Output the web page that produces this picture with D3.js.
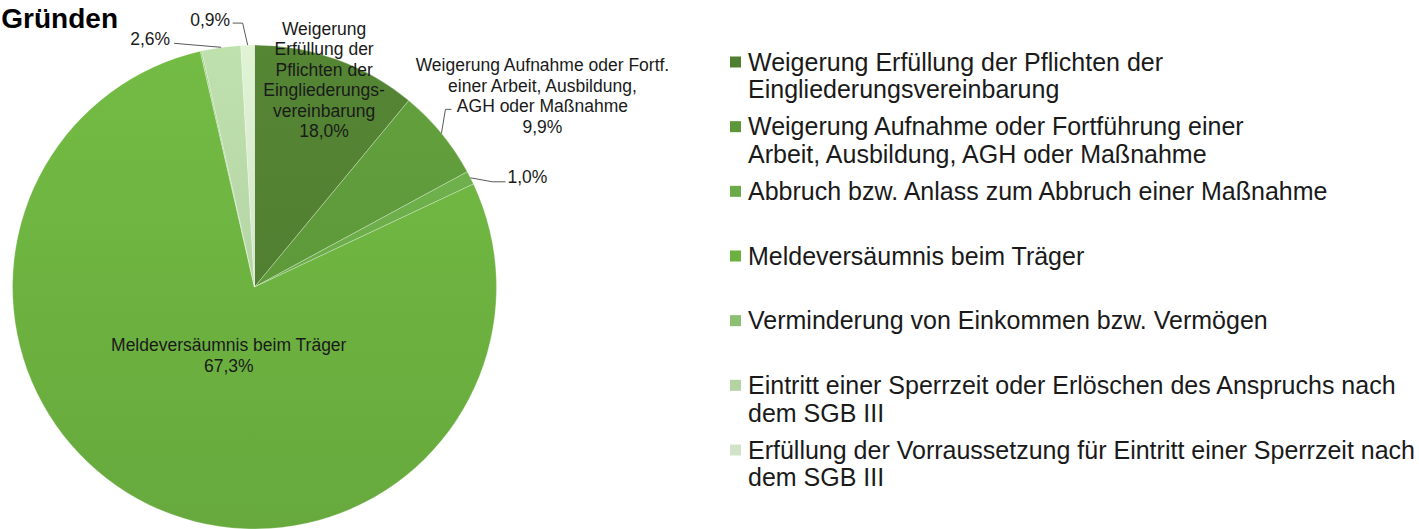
<!DOCTYPE html>
<html>
<head>
<meta charset="utf-8">
<script src="https://cdn.jsdelivr.net/npm/d3@7"></script>
<style>
  html, body { margin: 0; padding: 0; background: #fff; overflow: hidden; }
  #chart { width: 1419px; height: 529px; }
  text { font-family: 'Liberation Sans', Arial, sans-serif; fill: #1a1a1a; }
</style>
</head>
<body>
<div id="chart"></div>
<script>
// data ....
const titleText = 'Gründen';

const categories = [
  'Weigerung Erfüllung der Pflichten der\nEingliederungsvereinbarung',
  'Weigerung Aufnahme oder Fortführung einer\nArbeit, Ausbildung, AGH oder Maßnahme',
  'Abbruch bzw. Anlass zum Abbruch einer Maßnahme',
  'Meldeversäumnis beim Träger',
  'Verminderung von Einkommen bzw. Vermögen',
  'Eintritt einer Sperrzeit oder Erlöschen des Anspruchs nach\ndem SGB III',
  'Erfüllung der Vorraussetzung für Eintritt einer Sperrzeit nach\ndem SGB III',
];

// share of the circle each slice takes in the picture
const sliceValues = [11.0, 6.1, 0.9, 78.4, 0.1, 2.6, 0.9];

// percentages printed in the data labels (null = no label)
const printedPercent = [18.0, 9.9, 1.0, 67.3, null, 2.6, 0.9];

// category part of the data labels
const labelNames = [
  'Weigerung\nErfüllung der\nPflichten der\nEingliederungs-\nvereinbarung',
  'Weigerung Aufnahme oder Fortf.\neiner Arbeit, Ausbildung,\nAGH oder Maßnahme',
  '',
  'Meldeversäumnis beim Träger',
  '',
  '',
  '',
];

const colors = ['#507e31', '#5d9739', '#6aaa49', '#6cb040', '#8dbf73', '#b3d3a3', '#d2e4c8'];

const de = d3.formatLocale({ decimal: ',', thousands: '.', grouping: [3], currency: ['', ' €'] });
const fmtPct = (v) => `${de.format('.1f')(v)}%`;

class PieChart {
  constructor(node) {
    this.container = d3.select(node);
    this.setupVar();
    this.setupUtils();
    this.setupDOM();
  }

  setupVar() {
    this.width = 1419;
    this.height = 529;
    this.cx = 254.5;
    this.cy = 287;
    this.radius = 242;
    this.labelFont = 17.5;
    this.labelLine = 20.4;
    // where each data label sits, relative to the slice
    // inside: fraction of radius along mid angle; outside: offset from outer edge point
    this.labelLayout = [
      { kind: 'inside', rf: 0.91, dx: -5, dy: 0 },
      { kind: 'outside', dx: 101, dy: -68, anchor: 'middle', leader: [[4, -24], [10, -24]] },
      { kind: 'outside', dx: 37, dy: -1, anchor: 'start', leader: [[22, 4], [35, 4]] },
      { kind: 'inside', rf: 0.3, dx: 6, dy: 3 },
      null,
      { kind: 'outside', dx: -51, dy: -8, anchor: 'end', leader: [[-47, -4]] },
      { kind: 'outside', dx: -17.5, dy: -25, anchor: 'end', leader: [[-5, -22], [-15, -22]] },
    ];
  }

  setupUtils() {
    this.pie = d3.pie().sort(null).value((d) => d.value);
    this.arc = d3.arc().innerRadius(0).outerRadius(this.radius);
    this.legendY = d3.scalePoint()
      .domain(d3.range(categories.length))
      .range([62, 450]);
  }

  setupDOM() {
    this.svg = this.container.append('svg')
      .attr('width', this.width)
      .attr('height', this.height);
    this.defs = this.svg.append('defs');
    this.plots = this.svg.append('g')
      .attr('class', 'plots')
      .attr('transform', `translate(${this.cx},${this.cy})`);
    this.labels = this.svg.append('g').attr('class', 'labels');
    this.legend = this.svg.append('g').attr('class', 'legend');
  }

  point(angle, r) {
    return [this.cx + r * Math.sin(angle), this.cy - r * Math.cos(angle)];
  }

  drawGraph(data) {
    const r = this.radius;

    // soft vertical shading like the office chart
    data.forEach((d, i) => {
      const base = d3.color(d.color);
      const g = this.defs.append('linearGradient')
        .attr('id', `grad-${i}`)
        .attr('gradientUnits', 'userSpaceOnUse')
        .attr('x1', 0).attr('y1', -r)
        .attr('x2', 0).attr('y2', r);
      g.append('stop').attr('offset', '0%').attr('stop-color', base.brighter(0.18).formatHex());
      g.append('stop').attr('offset', '100%').attr('stop-color', base.darker(0.12).formatHex());
    });

    const arcs = this.pie(data);

    this.plots.selectAll('path.slice')
      .data(arcs)
      .enter()
      .append('path')
      .attr('class', 'slice')
      .attr('d', this.arc)
      .attr('fill', (d, i) => `url(#grad-${i})`)
      .attr('stroke', '#ffffff')
      .attr('stroke-opacity', 0.35)
      .attr('stroke-width', 0.8);

    // data labels
    arcs.forEach((a, i) => {
      const layout = this.labelLayout[i];
      const d = a.data;
      if (!layout || d.pct == null) { return; }
      const mid = (a.startAngle + a.endAngle) / 2;
      const lines = (d.label ? d.label.split('\n') : []).concat(fmtPct(d.pct));
      let x;
      let yTop;
      let anchor = 'middle';
      if (layout.kind === 'inside') {
        const p = this.point(mid, r * layout.rf);
        x = p[0] + layout.dx;
        const yMid = p[1] + layout.dy;
        yTop = yMid - ((lines.length - 1) * this.labelLine) / 2;
      } else {
        const edge = this.point(mid, r);
        x = edge[0] + layout.dx;
        yTop = edge[1] + layout.dy;
        anchor = layout.anchor;
        const pts = [edge].concat(layout.leader.map((o) => [edge[0] + o[0], edge[1] + o[1]]));
        this.labels.append('path')
          .attr('d', d3.line()(pts))
          .attr('fill', 'none')
          .attr('stroke', '#595959')
          .attr('stroke-width', 1);
      }
      const t = this.labels.append('text')
        .attr('text-anchor', anchor)
        .style('font-size', `${this.labelFont}px`);
      lines.forEach((line, k) => {
        t.append('tspan')
          .attr('x', x)
          .attr('y', yTop + k * this.labelLine)
          .attr('dy', '0.35em')
          .text(line);
      });
    });

    // legend
    const items = this.legend.selectAll('g.item')
      .data(data)
      .enter()
      .append('g')
      .attr('class', 'item')
      .attr('transform', (d, i) => `translate(0,${this.legendY(i)})`);

    items.append('rect')
      .attr('x', 730)
      .attr('y', -5.5)
      .attr('width', 11)
      .attr('height', 11)
      .attr('fill', (d) => d.color);

    items.append('text')
      .style('font-size', '25px')
      .selectAll('tspan')
      .data((d) => d.name.split('\n'))
      .enter()
      .append('tspan')
      .attr('x', 748)
      .attr('y', (d, k) => k * 27.5)
      .attr('dy', '0.35em')
      .text((d) => d);

    // title (cut at the left edge)
    this.svg.append('text')
      .attr('x', 118)
      .attr('y', 28)
      .attr('text-anchor', 'end')
      .style('font-size', '28px')
      .style('font-weight', 'bold')
      .style('fill', '#000')
      .text(titleText);
  }
}

const data = categories.map((name, i) => ({
  name,
  value: sliceValues[i],
  pct: printedPercent[i],
  label: labelNames[i],
  color: colors[i],
}));

const graph = new PieChart(document.getElementById('chart'));
graph.drawGraph(data);
</script>
</body>
</html>
